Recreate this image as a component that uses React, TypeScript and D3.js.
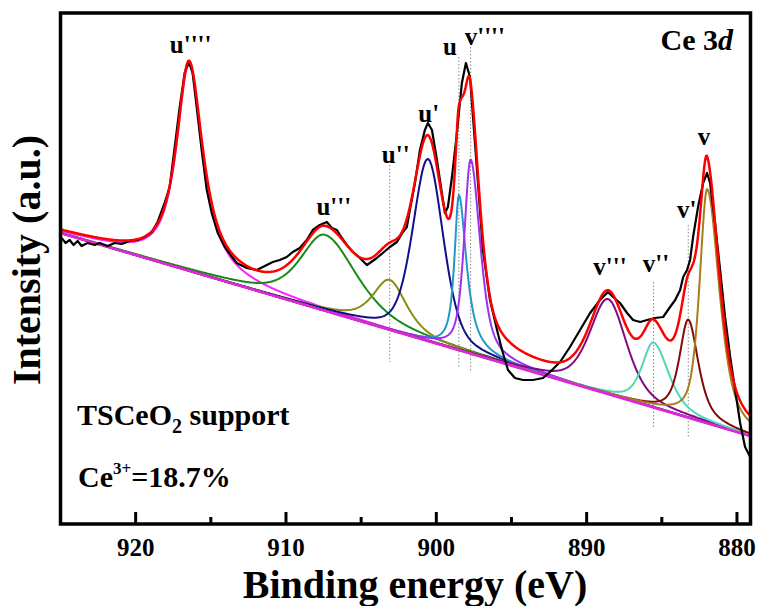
import React from 'react';
import * as d3 from 'd3';

// measured Ce 3d spectrum (binding energy in eV, intensity in a.u.)
const dataEnergy = [
  924.93, 924.66, 924.39, 924.13, 923.86, 923.6, 923.2, 922.73, 922.4, 921.86, 921.4, 920.93, 920.4, 919.87,
  919.4, 918.93, 918.54, 918.07, 917.74, 917.4, 917.07, 916.74, 916.47, 916.21, 915.94, 915.61, 915.27, 914.94,
  914.54, 914.07, 913.28, 912.61, 911.94, 911.54, 910.88, 910.41, 909.95, 909.55, 909.08, 908.62, 908.22, 907.75,
  907.28, 906.95, 906.62, 906.28, 905.95, 905.55, 905.09, 904.62, 904.42, 903.96, 903.56, 903.09, 902.62, 902.22,
  901.96, 901.76, 901.42, 901.09, 900.76, 900.56, 900.29, 899.96, 899.63, 899.43, 899.23, 898.96, 898.63, 898.3,
  898.03, 897.76, 897.56, 897.23, 896.9, 896.43, 895.96, 895.63, 895.23, 894.77, 894.23, 893.57, 892.9, 892.44,
  891.77, 891.11, 890.44, 889.77, 889.11, 888.58, 888.24, 887.78, 887.31, 886.91, 886.44, 885.98, 885.45, 884.91,
  884.45, 884.11, 883.78, 883.58, 883.32, 883.12, 882.92, 882.59, 882.25, 881.99, 881.79, 881.46, 881.12, 880.79,
  880.45, 880.12, 879.79, 879.46, 879.12,
];
const dataCounts = [
  285, 280, 283, 278, 282, 277, 280, 278, 280, 277, 280, 279, 282, 283,
  286, 291, 301, 320, 336, 376, 416, 450, 461, 450, 416, 373, 333, 310,
  290, 276, 260, 255, 253, 256, 261, 263, 266, 271, 275, 283, 293, 298,
  301, 295, 293, 285, 278, 271, 265, 258, 260, 265, 270, 276, 281, 291,
  296, 313, 340, 373, 393, 400, 393, 363, 330, 310, 316, 346, 390, 440,
  460, 446, 406, 340, 273, 223, 193, 173, 153, 145, 143, 143, 145, 151,
  161, 176, 193, 210, 223, 231, 226, 220, 210, 203, 201, 203, 205, 206,
  216, 223, 233, 246, 253, 263, 286, 316, 340, 350, 340, 300, 253, 206,
  166, 133, 100, 76, 66,
];

// fitted components: centre (eV), height above background,
// half width at half maximum on the high-BE / low-BE side (eV), Lorentzian fraction
const peakLabels = ["u''''", "u'''", "u''", "u'", 'u', "v''''", "v'''", "v''", "v'", 'v'];
const peakCenters = [916.45, 907.4, 903.1, 900.55, 898.5, 897.72, 888.57, 885.55, 883.24, 881.98];
const peakHeights = [207, 76, 50, 182, 155, 194, 95, 65, 98, 234];
const peakHalfLeft = [1.0, 1.95, 1.35, 1.2, 0.35, 0.5, 1.45, 0.9, 0.7, 0.6];
const peakHalfRight = [1.1, 2.5, 1.35, 1.2, 0.6, 0.75, 1.45, 1.2, 0.8, 0.95];
const peakLorentz = [0.9, 0.6, 0.7, 0.4, 0.9, 0.6, 0.5, 0.6, 0.7, 0.6];
const peakColors = ['#ff22ff', '#178a17', '#8c8c18', '#10108a', '#2398c8', '#9a32f0', '#840a84', '#4fd8b8', '#840808', '#a87c1c'];

// label anchors (eV, a.u.)
const labelEnergy = [916.34, 906.82, 902.7, 900.5, 899.1, 896.77, 888.45, 885.39, 883.34, 882.2];
const labelCounts = [470, 308, 360, 401, 468, 478, 248, 251, 305, 378];

// linear background end points
const backgroundEnergy = [925, 879.1];
const backgroundCounts = [290, 87];

// dotted guides
const guideEnergy = [903.1, 898.5, 897.72, 885.55, 883.24];
const guideTop = [358, 466, 483, 241, 298];
const guideBottom = [161, 155, 151, 95, 86];

const majorTicks = [920, 910, 900, 890, 880];
const minorTicks = [915, 905, 895, 885];

const W = 757;
const H = 606;
const font = "'Times New Roman', 'Liberation Serif', serif";

function peakAt(e: number, i: number) {
  const hw = e >= peakCenters[i] ? peakHalfLeft[i] : peakHalfRight[i];
  const x = (e - peakCenters[i]) / hw;
  const g = Math.exp(-Math.LN2 * x * x);
  const l = 1 / (1 + x * x);
  return peakHeights[i] * (peakLorentz[i] * l + (1 - peakLorentz[i]) * g);
}

export default function App() {
  const x = d3.scaleLinear().domain([925, 879.1]).range([60.5, 750.5]);
  const y = d3.scaleLinear().domain([-1, 510]).range([524, 13]);
  const bg = d3.scaleLinear().domain(backgroundEnergy).range(backgroundCounts);

  const grid = d3.range(0, 919).map((i) => 925 - i * 0.05);
  const line = d3
    .line<[number, number]>()
    .x((d) => x(d[0]))
    .y((d) => y(d[1]));

  const components = peakCenters.map((_, i) => line(grid.map((e) => [e, bg(e) + peakAt(e, i)])));
  const envelope = line(
    grid.map((e) => [e, bg(e) + peakCenters.reduce((s, _, i) => s + peakAt(e, i), 0)])
  );
  const background = line(backgroundEnergy.map((e, i) => [e, backgroundCounts[i]]));
  const measured = line(dataEnergy.map((e, i) => [e, dataCounts[i]]));

  return (
    <svg width={W} height={H} style={{ position: 'absolute', left: 0, top: 0, background: '#fff' }} fontFamily={font}>
      <defs>
        <clipPath id="plot">
          <rect x={60.5} y={13} width={690} height={511} />
        </clipPath>
      </defs>
      <g clipPath="url(#plot)" fill="none">
        {guideEnergy.map((e, i) => (
          <line key={'g' + i} x1={x(e)} x2={x(e)} y1={y(guideTop[i])} y2={y(guideBottom[i])} stroke="#8a8a8a" strokeWidth={1} strokeDasharray="1.5,2" />
        ))}
        {components.map((d, i) => (
          <path key={'c' + i} d={d || ''} stroke={peakColors[i]} strokeWidth={2} />
        ))}
        <path d={background || ''} stroke="#e024e0" strokeWidth={2.5} />
        <path d={measured || ''} stroke="#000" strokeWidth={2.2} strokeLinejoin="round" />
        <path d={envelope || ''} stroke="#ff0000" strokeWidth={2.5} />
      </g>
      {peakLabels.map((t, i) => (
        <text key={'l' + i} x={x(labelEnergy[i])} y={y(labelCounts[i])} textAnchor="middle" fontSize={25} fontWeight="bold">
          {t}
        </text>
      ))}
      <text x={733} y={50} textAnchor="end" fontSize={30} fontWeight="bold">
        Ce 3<tspan fontStyle="italic">d</tspan>
      </text>
      <text x={77} y={425} fontSize={30} fontWeight="bold">
        TSCeO<tspan fontSize={20} dy={8}>2</tspan>
        <tspan dy={-8}> support</tspan>
      </text>
      <text x={78} y={487} fontSize={30} fontWeight="bold">
        Ce<tspan fontSize={17} dy={-13}>3+</tspan>
        <tspan dy={13}>=18.7%</tspan>
      </text>
      <rect x={60.5} y={13} width={690} height={511} fill="none" stroke="#000" strokeWidth={3.5} />
      {majorTicks.map((t) => (
        <g key={'M' + t}>
          <line x1={x(t)} x2={x(t)} y1={524} y2={512} stroke="#000" strokeWidth={3} />
          <text x={x(t)} y={556} textAnchor="middle" fontSize={25} fontWeight="bold">
            {t}
          </text>
        </g>
      ))}
      {minorTicks.map((t) => (
        <line key={'m' + t} x1={x(t)} x2={x(t)} y1={524} y2={517} stroke="#000" strokeWidth={3} />
      ))}
      <text x={415} y={598} textAnchor="middle" fontSize={40} fontWeight="bold">
        Binding energy (eV)
      </text>
      <text transform="translate(40,260) rotate(-90)" textAnchor="middle" fontSize={40} fontWeight="bold">
        Intensity (a.u.)
      </text>
    </svg>
  );
}
